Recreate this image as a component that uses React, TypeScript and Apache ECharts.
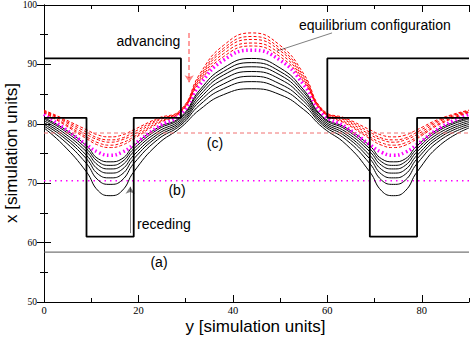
import React, { useEffect, useRef } from "react";
import * as echarts from "echarts";

// x positions (simulation units along y-axis) where the interface profiles are sampled
const X_GRID = [0, 4, 9, 11.5, 14, 16.5, 19, 24, 29, 33, 38, 44, 50, 55, 59, 64, 69, 71.5, 74, 76.5, 79, 84, 90];

// advancing (red dashed) profiles
const RED_1 = [82.3, 80.9, 79.0, 78.1, 77.8, 78.1, 79.0, 80.9, 82.4, 88.4, 93.2, 95.3, 93.2, 88.4, 82.4, 80.9, 79.0, 78.1, 77.8, 78.1, 79.0, 80.9, 82.3];
const RED_2 = [82.2, 80.7, 78.6, 77.6, 77.3, 77.6, 78.6, 80.7, 82.3, 88.0, 92.7, 94.7, 92.7, 88.0, 82.3, 80.7, 78.6, 77.6, 77.3, 77.6, 78.6, 80.7, 82.2];
const RED_3 = [82.1, 80.5, 78.2, 77.3, 76.9, 77.3, 78.2, 80.5, 82.2, 87.7, 92.3, 94.2, 92.3, 87.7, 82.2, 80.5, 78.2, 77.3, 76.9, 77.3, 78.2, 80.5, 82.1];
const RED_4 = [82.0, 80.2, 77.8, 76.8, 76.4, 76.8, 77.8, 80.2, 82.1, 87.4, 91.8, 93.6, 91.8, 87.4, 82.1, 80.2, 77.8, 76.8, 76.4, 76.8, 77.8, 80.2, 82.0];
const RED_5 = [81.9, 80.0, 77.5, 76.4, 76.0, 76.4, 77.5, 80.0, 82.0, 87.1, 91.3, 93.1, 91.3, 87.1, 82.0, 80.0, 77.5, 76.4, 76.0, 76.4, 77.5, 80.0, 81.9];

// equilibrium configuration (magenta)
const EQUILIBRIUM = [81.6, 79.4, 76.5, 75.2, 74.7, 75.2, 76.5, 79.4, 81.7, 86.6, 90.7, 92.4, 90.7, 86.6, 81.7, 79.4, 76.5, 75.2, 74.7, 75.2, 76.5, 79.4, 81.6];

// receding (black) profiles
const BLACK_1 = [81.0, 79.3, 76.3, 74.1, 73.6, 74.1, 76.3, 79.3, 81.2, 85.7, 89.4, 91.0, 89.4, 85.7, 81.2, 79.3, 76.3, 74.1, 73.6, 74.1, 76.3, 79.3, 81.0];
const BLACK_2 = [80.8, 79.0, 75.8, 73.6, 73.0, 73.6, 75.8, 79.0, 81.0, 85.3, 88.8, 90.3, 88.8, 85.3, 81.0, 79.0, 75.8, 73.6, 73.0, 73.6, 75.8, 79.0, 80.8];
const BLACK_3 = [80.5, 78.6, 75.3, 73.0, 72.4, 73.0, 75.3, 78.6, 80.7, 84.8, 88.2, 89.6, 88.2, 84.8, 80.7, 78.6, 75.3, 73.0, 72.4, 73.0, 75.3, 78.6, 80.5];
const BLACK_4 = [80.2, 78.2, 74.7, 72.3, 71.7, 72.3, 74.7, 78.2, 80.4, 84.3, 87.5, 88.8, 87.5, 84.3, 80.4, 78.2, 74.7, 72.3, 71.7, 72.3, 74.7, 78.2, 80.2];
const BLACK_5 = [79.9, 77.8, 74.1, 71.5, 70.9, 71.5, 74.1, 77.8, 80.1, 83.8, 86.7, 88.0, 86.7, 83.8, 80.1, 77.8, 74.1, 71.5, 70.9, 71.5, 74.1, 77.8, 79.9];
const BLACK_6 = [79.6, 77.3, 73.3, 70.5, 69.8, 70.5, 73.3, 77.3, 79.8, 83.2, 85.9, 87.1, 85.9, 83.2, 79.8, 77.3, 73.3, 70.5, 69.8, 70.5, 73.3, 77.3, 79.6];
const BLACK_7 = [79.3, 76.5, 71.9, 68.7, 67.9, 68.7, 71.9, 76.5, 79.4, 82.4, 84.9, 85.9, 84.9, 82.4, 79.4, 76.5, 71.9, 68.7, 67.9, 68.7, 71.9, 76.5, 79.3];

// substrate walls
const WALL_LEFT_X = [0, 29, 29, 19, 19, 9, 9, 0];
const WALL_LEFT_Y = [91, 91, 81, 81, 61, 61, 81, 81];
const WALL_RIGHT_X = [90, 60, 60, 69, 69, 79, 79, 90];
const WALL_RIGHT_Y = [91, 91, 81, 81, 61, 61, 81, 81];

// horizontal reference levels (a), (b), (c)
const LEVEL_A = 58.4;
const LEVEL_B = 70.4;
const LEVEL_C = 78.45;

// axis ticks
const X_TICKS = [0, 20, 40, 60, 80];
const Y_TICKS = [50, 60, 70, 80, 90, 100];

// annotation arrows (data coords)
const ADV_ARROW = [[30.75, 95.3], [30.75, 87.0]];
const REC_ARROW = [[18.25, 61.6], [18.25, 69.4]];
const EQ_LEADER = [[49.3, 92.25], [61.0, 95.3]];

const SANS = "'Liberation Sans', Arial, Helvetica, sans-serif";
const SERIF = "'Liberation Serif', 'Times New Roman', serif";

function pairs(ys: number[]) {
  return X_GRID.map((x, i) => [x, ys[i]]);
}
function zip(xs: number[], ys: number[]) {
  return xs.map((x, i) => [x, ys[i]]);
}

export default function App() {
  const ref = useRef<HTMLDivElement>(null);
  useEffect(() => {
    if (!ref.current) return;
    const chart = echarts.init(ref.current, null, { renderer: "svg" });

    const curve = (data: number[], style: any, z = 2) => ({
      type: "line",
      data: pairs(data),
      symbol: "none",
      showSymbol: false,
      smooth: 0.5,
      lineStyle: style,
      z,
      silent: true,
    });
    const redStyle = { color: "#ff0000", width: 1, type: [3, 2] };
    const blackStyle = { color: "#000000", width: 1, type: "solid" };
    const magStyle = { color: "#ff00ff", width: 3.5, type: [1.6, 2.6] };

    const hline = (v: number, style: any, z = 1) => ({
      type: "line",
      data: [[0, v], [90, v]],
      symbol: "none",
      lineStyle: style,
      silent: true,
      z,
    });

    const axisBase = {
      type: "value",
      splitLine: { show: false },
    };

    const option: any = {
      animation: false,
      grid: { left: 44, top: 5, right: 2, bottom: 36 },
      xAxis: [
        {
          ...axisBase,
          position: "bottom",
          min: 0,
          max: 90,
          interval: 20,
          axisLine: { show: true, lineStyle: { color: "#000", width: 1 } },
          axisTick: { show: true, inside: true, length: 7, lineStyle: { color: "#000" } },
          axisLabel: {
            showMaxLabel: false,
            color: "#000",
            fontFamily: SERIF,
            fontSize: 10.5,
            margin: 3,
            formatter: (v: number) => (X_TICKS.includes(v) ? String(v) : ""),
          },
        },
        {
          ...axisBase,
          position: "bottom",
          min: 0,
          max: 90,
          interval: 10,
          axisLine: { show: false },
          axisTick: { show: true, inside: true, length: 4, lineStyle: { color: "#000" } },
          axisLabel: { show: false },
        },
        {
          ...axisBase,
          position: "top",
          min: 0,
          max: 90,
          interval: 20,
          axisLine: { show: true, lineStyle: { color: "#000", width: 1 } },
          axisTick: { show: true, inside: true, length: 7, lineStyle: { color: "#000" } },
          axisLabel: { show: false },
        },
        {
          ...axisBase,
          position: "top",
          min: 0,
          max: 90,
          interval: 10,
          axisLine: { show: false },
          axisTick: { show: true, inside: true, length: 4, lineStyle: { color: "#000" } },
          axisLabel: { show: false },
        },
      ],
      yAxis: [
        {
          ...axisBase,
          position: "left",
          min: 50,
          max: 100,
          interval: 10,
          axisLine: { show: true, lineStyle: { color: "#000", width: 1 } },
          axisTick: { show: true, inside: true, length: 7, lineStyle: { color: "#000" } },
          minorTick: { show: true, splitNumber: 2, length: 4, lineStyle: { color: "#000" } },
          axisLabel: {
            color: "#000",
            fontFamily: SERIF,
            fontSize: 9.5,
            margin: 7,
            formatter: (v: number) => (Y_TICKS.includes(v) ? String(v) : ""),
          },
        },
        {
          ...axisBase,
          position: "right",
          min: 50,
          max: 100,
          interval: 10,
          axisLine: { show: true, lineStyle: { color: "#000", width: 1 } },
          axisTick: { show: true, inside: true, length: 7, lineStyle: { color: "#000" } },
          minorTick: { show: true, splitNumber: 2, length: 4, lineStyle: { color: "#000" } },
          axisLabel: { show: false },
        },
      ],
      series: [
        hline(LEVEL_A, { color: "#555555", width: 1, type: "solid" }),
        hline(LEVEL_B, { color: "#ff00ff", width: 1.5, type: [1.5, 4] }),
        hline(LEVEL_C, { color: "#f07070", width: 1, type: [4, 3] }, 5),
        curve(BLACK_7, blackStyle),
        curve(BLACK_6, blackStyle),
        curve(BLACK_5, blackStyle),
        curve(BLACK_4, blackStyle),
        curve(BLACK_3, blackStyle),
        curve(BLACK_2, blackStyle),
        curve(BLACK_1, blackStyle),
        curve(EQUILIBRIUM, magStyle, 3),
        curve(RED_5, redStyle, 4),
        curve(RED_4, redStyle, 4),
        curve(RED_3, redStyle, 4),
        curve(RED_2, redStyle, 4),
        curve(RED_1, redStyle, 4),
        {
          type: "line",
          data: zip(WALL_LEFT_X, WALL_LEFT_Y),
          symbol: "none",
          lineStyle: { color: "#000", width: 1.8 },
          z: 6,
          silent: true,
        },
        {
          type: "line",
          data: zip(WALL_RIGHT_X, WALL_RIGHT_Y),
          symbol: "none",
          lineStyle: { color: "#000", width: 1.8 },
          z: 6,
          silent: true,
        },
        {
          type: "lines",
          coordinateSystem: "cartesian2d",
          symbol: ["none", "arrow"],
          symbolSize: 7,
          z: 7,
          silent: true,
          data: [
            { coords: ADV_ARROW, lineStyle: { color: "#ff0000", width: 1.5, type: [5, 3] } },
            { coords: REC_ARROW, lineStyle: { color: "#000", width: 1, type: "solid" } },
          ],
        },
        {
          type: "lines",
          coordinateSystem: "cartesian2d",
          symbol: ["none", "none"],
          z: 7,
          silent: true,
          data: [{ coords: EQ_LEADER, lineStyle: { color: "#000", width: 1, type: "solid" } }],
        },
      ],
      graphic: [
        { type: "text", x: 116.5, y: 41, style: { text: "advancing", font: `14px ${SANS}`, fill: "#000", textAlign: "left", textVerticalAlign: "middle" } },
        { type: "text", x: 299, y: 25, style: { text: "equilibrium configuration", font: `14px ${SANS}`, fill: "#000", textAlign: "left", textVerticalAlign: "middle" } },
        { type: "text", x: 137, y: 224, style: { text: "receding", font: `14px ${SANS}`, fill: "#000", textAlign: "left", textVerticalAlign: "middle" } },
        { type: "text", x: 159, y: 262, style: { text: "(a)", font: `14px ${SANS}`, fill: "#000", textAlign: "center", textVerticalAlign: "middle" } },
        { type: "text", x: 177, y: 190, style: { text: "(b)", font: `14px ${SANS}`, fill: "#000", textAlign: "center", textVerticalAlign: "middle" } },
        { type: "text", x: 215, y: 143, style: { text: "(c)", font: `14px ${SANS}`, fill: "#000", textAlign: "center", textVerticalAlign: "middle" } },
        { type: "text", x: 255.5, y: 326, style: { text: "y [simulation units]", font: `17px ${SANS}`, fill: "#000", textAlign: "center", textVerticalAlign: "middle" } },
        { type: "text", x: 11, y: 153, rotation: Math.PI / 2, style: { text: "x [simulation units]", font: `17px ${SANS}`, fill: "#000", textAlign: "center", textVerticalAlign: "middle" } },
      ],
    };
    chart.setOption(option);
    return () => chart.dispose();
  }, []);
  return (
    <div
      ref={ref}
      style={{ position: "absolute", left: 0, top: 0, width: 471, height: 338, background: "#fff" }}
    />
  );
}
